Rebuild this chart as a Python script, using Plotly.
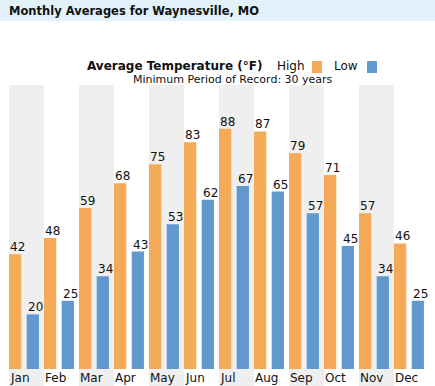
import plotly.graph_objects as go

months = ["Jan", "Feb", "Mar", "Apr", "May", "Jun", "Jul", "Aug", "Sep", "Oct", "Nov", "Dec"]
high = [42, 48, 59, 68, 75, 83, 88, 87, 79, 71, 57, 46]
low = [20, 25, 34, 43, 53, 62, 67, 65, 57, 45, 34, 25]

ORANGE = "#F5AA57"
BLUE = "#6199CF"
GRAY = "#EFEFEF"
TITLEBG = "#E2F1FA"
FONT = "DejaVu Sans"

W, H = 435, 386
L, R, T, B = 9, 6, 85, 17
PW, PH = W - L - R, H - T - B


def px(xp):
    return (xp - L) / PW


def py(yp):
    return (H - B - yp) / PH


x = list(range(len(months)))
BW = 0.35
OFF_H = -0.5
OFF_L = 0.006

fig = go.Figure()
fig.add_trace(go.Bar(x=x, y=high, name="High", marker=dict(color=ORANGE, line_width=0),
                     width=BW, offset=OFF_H, hoverinfo="y"))
fig.add_trace(go.Bar(x=x, y=low, name="Low", marker=dict(color=BLUE, line_width=0),
                     width=BW, offset=OFF_L, hoverinfo="y"))

shapes = []
# title bar
shapes.append(dict(type="rect", xref="paper", yref="paper", x0=px(0), x1=px(W), y0=py(21), y1=py(0),
                   fillcolor=TITLEBG, line_width=0, layer="below"))
# alternating month bands
for i in x:
    if i % 2 == 0:
        shapes.append(dict(type="rect", xref="x", yref="paper", x0=i - 0.5, x1=i + 0.5,
                           y0=py(H), y1=1, fillcolor=GRAY, line_width=0, layer="below"))
# legend swatches
shapes.append(dict(type="rect", xref="paper", yref="paper", x0=px(312), x1=px(322), y0=py(73), y1=py(61),
                   fillcolor=ORANGE, line_width=0))
shapes.append(dict(type="rect", xref="paper", yref="paper", x0=px(367), x1=px(377), y0=py(73), y1=py(61),
                   fillcolor=BLUE, line_width=0))

ann = []
ann.append(dict(text="<b>Monthly Averages for Waynesville, MO</b>", xref="paper", yref="paper",
                x=px(7), y=py(11), xanchor="left", yanchor="middle", showarrow=False,
                font=dict(family=FONT, size=11.5, color="#111111")))
ann.append(dict(text="<b>Average Temperature (°F)</b>", xref="paper", yref="paper",
                x=px(264), y=py(66), xanchor="right", yanchor="middle", showarrow=False,
                font=dict(family=FONT, size=12, color="#111111")))
ann.append(dict(text="High", xref="paper", yref="paper",
                x=px(275), y=py(66), xanchor="left", yanchor="middle", showarrow=False,
                font=dict(family=FONT, size=12, color="#111111")))
ann.append(dict(text="Low", xref="paper", yref="paper",
                x=px(332), y=py(66), xanchor="left", yanchor="middle", showarrow=False,
                font=dict(family=FONT, size=12, color="#111111")))
ann.append(dict(text="Minimum Period of Record: 30 years", xref="paper", yref="paper",
                x=px(233), y=py(79), xanchor="center", yanchor="middle", showarrow=False,
                font=dict(family=FONT, size=11, color="#111111")))

for i, m in enumerate(months):
    ann.append(dict(text=m, xref="x", yref="paper", x=i - 0.5, y=py(378), xanchor="left",
                    yanchor="middle", xshift=-1, showarrow=False,
                    font=dict(family=FONT, size=12, color="#111111")))
    ann.append(dict(text=str(high[i]), xref="x", yref="y", x=i + OFF_H, y=high[i], xanchor="left",
                    yanchor="bottom", xshift=-1, yshift=-2, showarrow=False,
                    font=dict(family=FONT, size=12, color="#111111")))
    ann.append(dict(text=str(low[i]), xref="x", yref="y", x=i + OFF_L, y=low[i], xanchor="left",
                    yanchor="bottom", xshift=-1, yshift=-2, showarrow=False,
                    font=dict(family=FONT, size=12, color="#111111")))

fig.update_layout(
    width=W, height=H,
    margin=dict(l=L, r=R, t=T, b=B, pad=0),
    paper_bgcolor="white", plot_bgcolor="rgba(0,0,0,0)",
    showlegend=False,
    barmode="overlay",
    shapes=shapes,
    annotations=ann,
    xaxis=dict(range=[-0.5, 11.5], showticklabels=False, showgrid=False, zeroline=False,
               showline=False, ticks="", fixedrange=True),
    yaxis=dict(range=[0, 104], showticklabels=False, showgrid=False, zeroline=False,
               showline=False, ticks="", fixedrange=True),
    font=dict(family=FONT),
)

fig.write_html("out.html", config={"displayModeBar": False},
               post_script="document.body.style.margin='0';document.body.style.overflow='hidden';")
